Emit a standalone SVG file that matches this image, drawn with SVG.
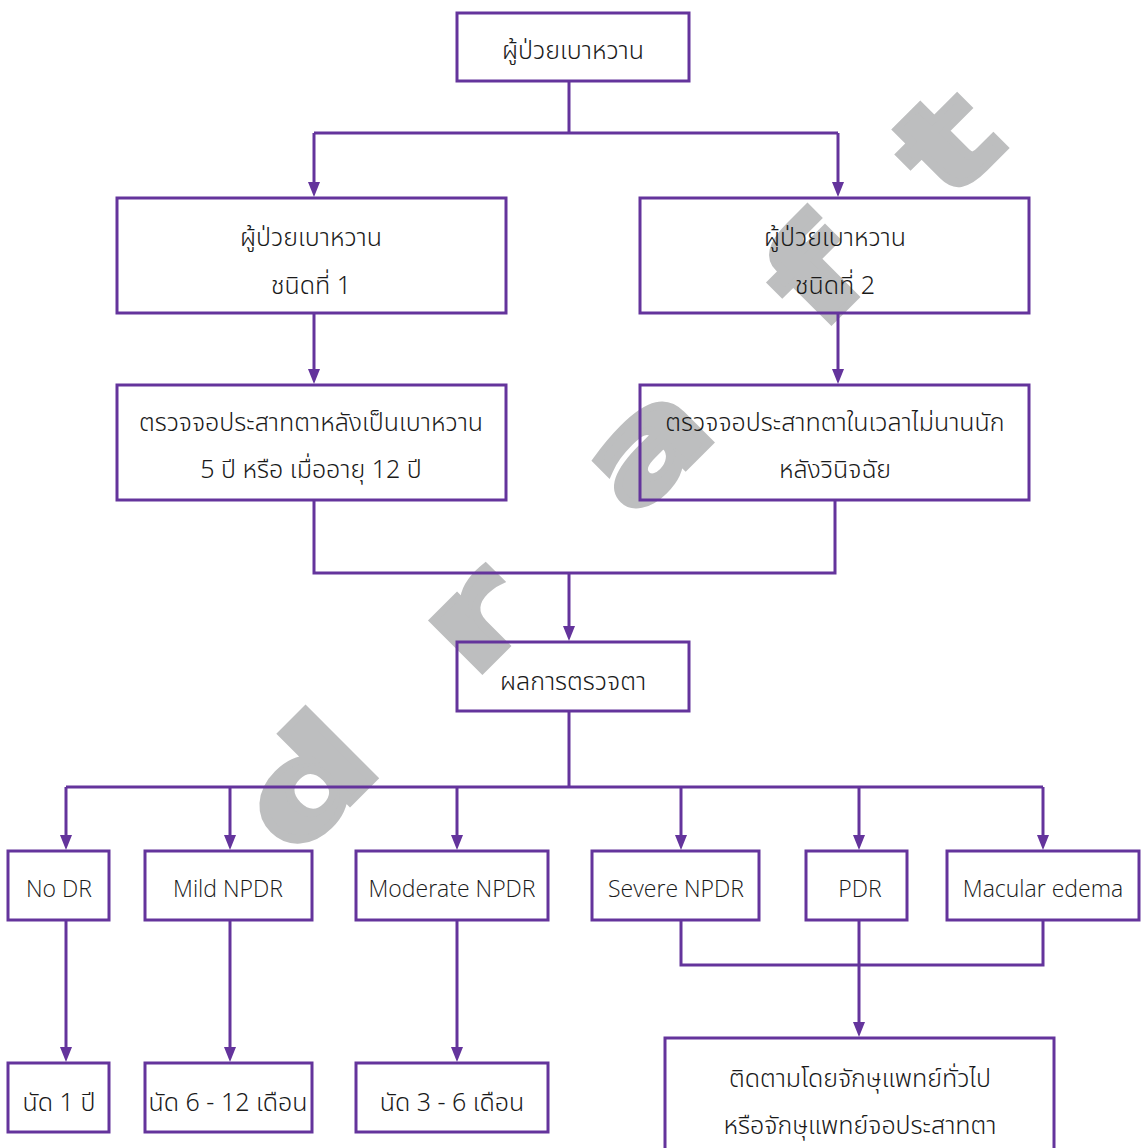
<svg xmlns="http://www.w3.org/2000/svg" width="1141" height="1148" viewBox="0 0 1141 1148">
<style>
.box{fill:none;stroke:#64349c;stroke-width:3}
.ln{fill:none;stroke:#64349c;stroke-width:3}
.t{font-family:"Noto Sans Thai","Noto Sans","DejaVu Sans",sans-serif;font-size:25px;font-weight:300;fill:#1a1a1a;text-anchor:middle}
.e{font-family:"Open Sans","Noto Sans",sans-serif;font-size:23px;font-weight:300;fill:#1a1a1a;text-anchor:middle}
.wm{font-family:"DejaVu Sans",sans-serif;font-weight:bold;font-size:128px;fill:#bdbebf;stroke:#bdbebf;stroke-width:7;text-anchor:middle}
</style>
<g id="watermark">
<text class="wm" transform="rotate(-45) scale(1.4,1)" x="-240 -73 101 273 406" y="815">draft</text>
</g>
<g id="connectors">
<path class="ln" d="M569,81 V133 M314,133 H838"/>
<path class="ln" d="M314,133 V184"/>
<path class="ln" d="M838,133 V184"/>
<path class="ln" d="M314,313 V371"/>
<path class="ln" d="M838,313 V371"/>
<path class="ln" d="M314,500 V573 H835 V500"/>
<path class="ln" d="M569,573 V628"/>
<path class="ln" d="M569,711 V787 M66,787 H1043"/>
<path class="ln" d="M66,787 V837"/>
<path class="ln" d="M230,787 V837"/>
<path class="ln" d="M457,787 V837"/>
<path class="ln" d="M681,787 V837"/>
<path class="ln" d="M859,787 V837"/>
<path class="ln" d="M1043,787 V837"/>
<path class="ln" d="M66,920 V1049"/>
<path class="ln" d="M230,920 V1049"/>
<path class="ln" d="M457,920 V1049"/>
<path class="ln" d="M681,920 V965 H1043 V920"/>
<path class="ln" d="M859,920 V1024"/>
<g fill="#64349c">
<path d="M308,182 H320 L314,197 Z"/>
<path d="M832,182 H844 L838,197 Z"/>
<path d="M308,369 H320 L314,384 Z"/>
<path d="M832,369 H844 L838,384 Z"/>
<path d="M563,626 H575 L569,641 Z"/>
<path d="M60,835 H72 L66,850 Z"/>
<path d="M224,835 H236 L230,850 Z"/>
<path d="M451,835 H463 L457,850 Z"/>
<path d="M675,835 H687 L681,850 Z"/>
<path d="M853,835 H865 L859,850 Z"/>
<path d="M1037,835 H1049 L1043,850 Z"/>
<path d="M60,1047 H72 L66,1062 Z"/>
<path d="M224,1047 H236 L230,1062 Z"/>
<path d="M451,1047 H463 L457,1062 Z"/>
<path d="M853,1022 H865 L859,1037 Z"/>
</g>
</g>
<g id="n-top"><rect class="box" x="457" y="13" width="232" height="68"/><text class="t" x="573" y="59">ผู้ป่วยเบาหวาน</text></g>
<g id="n-type1"><rect class="box" x="117" y="198" width="389" height="115"/><text class="t" x="311" y="246">ผู้ป่วยเบาหวาน</text><text class="t" x="311" y="294">ชนิดที่ 1</text></g>
<g id="n-type2"><rect class="box" x="640" y="198" width="389" height="115"/><text class="t" x="835" y="246">ผู้ป่วยเบาหวาน</text><text class="t" x="835" y="294">ชนิดที่ 2</text></g>
<g id="n-screen1"><rect class="box" x="117" y="385" width="389" height="115"/><text class="t" x="311" y="431">ตรวจจอประสาทตาหลังเป็นเบาหวาน</text><text class="t" x="311" y="478">5 ปี หรือ เมื่ออายุ 12 ปี</text></g>
<g id="n-screen2"><rect class="box" x="640" y="385" width="389" height="115"/><text class="t" x="835" y="431">ตรวจจอประสาทตาในเวลาไม่นานนัก</text><text class="t" x="835" y="478">หลังวินิจฉัย</text></g>
<g id="n-result"><rect class="box" x="457" y="642" width="232" height="69"/><text class="t" x="573" y="690">ผลการตรวจตา</text></g>
<g id="n-nodr"><rect class="box" x="8" y="851" width="101" height="69"/><text class="e" x="59" y="897">No DR</text></g>
<g id="n-mild"><rect class="box" x="145" y="851" width="167" height="69"/><text class="e" x="228" y="897">Mild NPDR</text></g>
<g id="n-moderate"><rect class="box" x="356" y="851" width="192" height="69"/><text class="e" x="452" y="897">Moderate NPDR</text></g>
<g id="n-severe"><rect class="box" x="592" y="851" width="167" height="69"/><text class="e" x="676" y="897">Severe NPDR</text></g>
<g id="n-pdr"><rect class="box" x="806" y="851" width="101" height="69"/><text class="e" x="860" y="897">PDR</text></g>
<g id="n-macular"><rect class="box" x="947" y="851" width="192" height="69"/><text class="e" x="1043" y="897">Macular edema</text></g>
<g id="n-1y"><rect class="box" x="8" y="1063" width="101" height="69"/><text class="t" x="59" y="1111">นัด 1 ปี</text></g>
<g id="n-6-12"><rect class="box" x="145" y="1063" width="167" height="69"/><text class="t" x="228" y="1111">นัด 6 - 12 เดือน</text></g>
<g id="n-3-6"><rect class="box" x="356" y="1063" width="192" height="69"/><text class="t" x="452" y="1111">นัด 3 - 6 เดือน</text></g>
<g id="n-follow"><rect class="box" x="665" y="1038" width="389" height="120"/><text class="t" x="860" y="1087">ติดตามโดยจักษุแพทย์ทั่วไป</text><text class="t" x="860" y="1134">หรือจักษุแพทย์จอประสาทตา</text></g>
</svg>
